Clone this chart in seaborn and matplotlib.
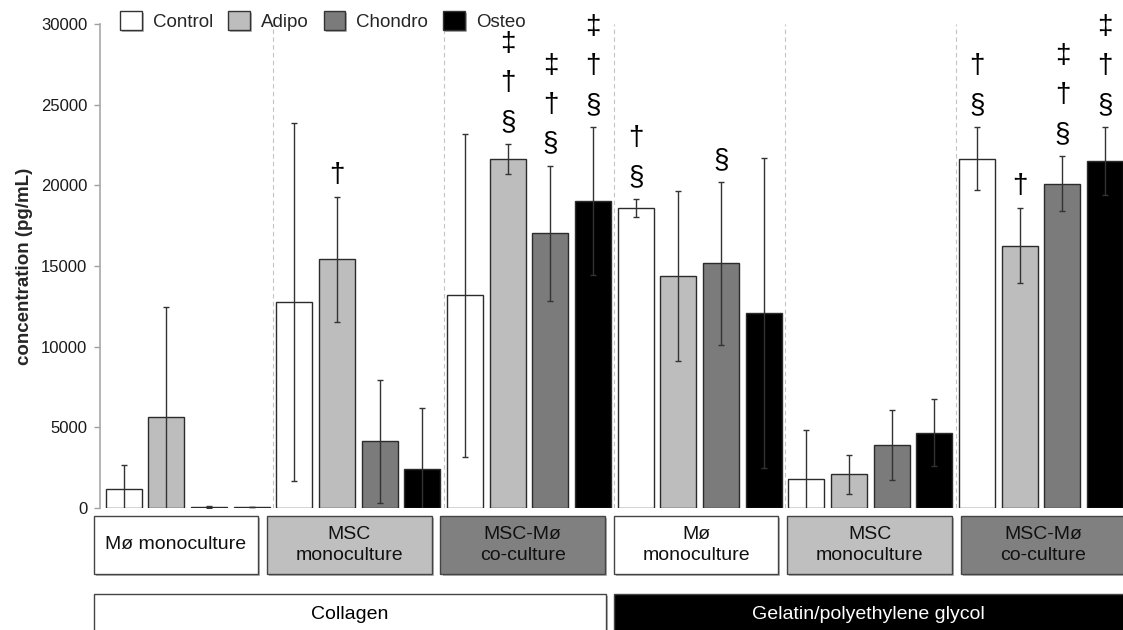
import matplotlib
matplotlib.use("Agg")
import matplotlib.pyplot as plt
import matplotlib.patheffects as pe
from matplotlib.patches import Patch, Rectangle
import pandas as pd
import seaborn as sns

sns.set_style("white")
plt.rcParams["font.family"] = ["Liberation Sans", "DejaVu Sans"]

# bar groups (substrate x culture), left to right
group_keys = ["col_mo", "col_msc", "col_co", "gel_mo", "gel_msc", "gel_co"]
group_labels = ["Mø monoculture", "MSC\nmonoculture", "MSC-Mø\nco-culture",
                "Mø\nmonoculture", "MSC\nmonoculture", "MSC-Mø\nco-culture"]
group_box_colors = ["white", "#bfbfbf", "#808080", "white", "#bfbfbf", "#808080"]
substrates = ["Collagen", "Gelatin/polyethylene glycol"]

conditions = ["Control", "Adipo", "Chondro", "Osteo"]
colors = ["white", "#bdbdbd", "#7b7b7b", "black"]

# concentration (pg/mL), one value per group
control = [1160, 12750, 13180, 18575, 1820, 21660]
adipo = [5620, 15415, 21630, 14400, 2090, 16260]
chondro = [90, 4130, 17025, 15165, 3900, 20100]
osteo = [60, 2400, 19030, 12110, 4670, 21490]

control_err = [1520, 11090, 9990, 560, 3040, 1930]
adipo_err = [6860, 3870, 930, 5270, 1220, 2320]
chondro_err = [60, 3830, 4190, 5045, 2190, 1720]
osteo_err = [20, 3780, 4570, 9600, 2070, 2110]

# significance marks, stacked bottom to top
control_sig = ["", "", "", "§†", "", "§†"]
adipo_sig = ["", "†", "§†‡", "", "", "†"]
chondro_sig = ["", "", "§†‡", "§", "", "§†‡"]
osteo_sig = ["", "", "§†‡", "", "", "§†‡"]

values = [control, adipo, chondro, osteo]
errors = [control_err, adipo_err, chondro_err, osteo_err]
sigs = [control_sig, adipo_sig, chondro_sig, osteo_sig]

df = pd.DataFrame(
    [(g, c, values[j][i]) for i, g in enumerate(group_keys) for j, c in enumerate(conditions)],
    columns=["group", "condition", "value"],
)

W, H = 1123, 630
fig = plt.figure(figsize=(W / 100, H / 100), dpi=100)
ax = fig.add_axes([100 / W, 1 - 508 / H, 1 - 100 / W, (508 - 24) / H])

sns.barplot(data=df, x="group", y="value", hue="condition", order=group_keys,
            hue_order=conditions, palette=colors, saturation=1, width=1.0, gap=0.155,
            errorbar=None, edgecolor="#2b2b2b", linewidth=1, legend=False, ax=ax, zorder=2)

shadow = [pe.SimplePatchShadow(offset=(1.5, -1.5), shadow_rgbFace="0.45", alpha=0.5), pe.Normal()]

bar_conts = list(ax.containers)
for j, cont in enumerate(bar_conts):
    xs = [b.get_x() + b.get_width() / 2 for b in cont]
    hs = [b.get_height() for b in cont]
    ax.errorbar(xs, hs, yerr=errors[j], fmt="none", ecolor="#333333", elinewidth=1,
                capsize=2.5, capthick=1, zorder=3)
    for x, h, e, s in zip(xs, hs, errors[j], sigs[j]):
        for k, sym in enumerate(s):
            ax.annotate(sym, (x, h + e), xytext=(0, 16 + 28 * k), textcoords="offset points",
                        ha="center", va="center", fontsize=20, color="black")

for i in range(len(group_keys) - 1):
    ax.axvline(i + 0.5, color="#c4c4c4", ls=(0, (4, 3)), lw=0.8, zorder=1)

ax.set_xlim(-0.514, 5.48)
ax.set_ylim(0, 30000)
ax.set_yticks(range(0, 30001, 5000))
ax.tick_params(axis="y", labelsize=12, length=4, width=1, color="#a0a0a0", pad=5, left=True,
               labelcolor="#1a1a1a")
ax.set_xticks([])
ax.set_xlabel("")
ax.set_ylabel("")
for sp in ["top", "right", "bottom"]:
    ax.spines[sp].set_visible(False)
ax.spines["left"].set_color("#a8a8a8")
ax.spines["left"].set_linewidth(1.2)

fig.text(25 / W, 1 - 266 / H, "concentration (pg/mL)", rotation=90, ha="center", va="center",
         fontsize=13.5, fontweight="bold")

# culture-type boxes under the bars (box row runs a little wider than the bar groups)
tr = ax.get_xaxis_transform()
box_step, box_w, box_x0 = 1.016, 0.964, -0.551
for i, (lab, fc) in enumerate(zip(group_labels, group_box_colors)):
    left = box_x0 + i * box_step
    r = Rectangle((left, -0.1364), box_w, 0.12, transform=tr, clip_on=False,
                  facecolor=fc, edgecolor="#444444", lw=1)
    r.set_path_effects(shadow)
    ax.add_patch(r)
    ax.text(left + box_w / 2, -0.0764, lab, transform=tr, ha="center", va="center",
            fontsize=14, color="#111111", linespacing=1.3)

# substrate boxes
sub_left = [box_x0, 2.5]
sub_w = [3.0, 3.2]
for name, x0, w, fc, tc in zip(substrates, sub_left, sub_w, ["white", "black"], ["black", "white"]):
    r = Rectangle((x0, -0.30), w, 0.1223, transform=tr, clip_on=False,
                  facecolor=fc, edgecolor="#444444", lw=1)
    r.set_path_effects(shadow)
    ax.add_patch(r)
    ax.text(x0 + 1.5 if w == 3.0 else 3.99, -0.221, name, transform=tr, ha="center",
            va="center", fontsize=14, color=tc)

handles = [Patch(facecolor=c, edgecolor="#333333", lw=1, label=l) for c, l in zip(colors, conditions)]
leg = fig.legend(handles=handles, ncol=4, loc="upper left", bbox_to_anchor=(120 / W, 1 - 11 / H),
                 frameon=False, fontsize=13.5, handlelength=1.15, handleheight=1.15,
                 handletextpad=0.6, columnspacing=0.8, borderpad=0, borderaxespad=0)
for p in leg.get_patches():
    p.set_path_effects(shadow)

fig.savefig("out.png", dpi=100)
